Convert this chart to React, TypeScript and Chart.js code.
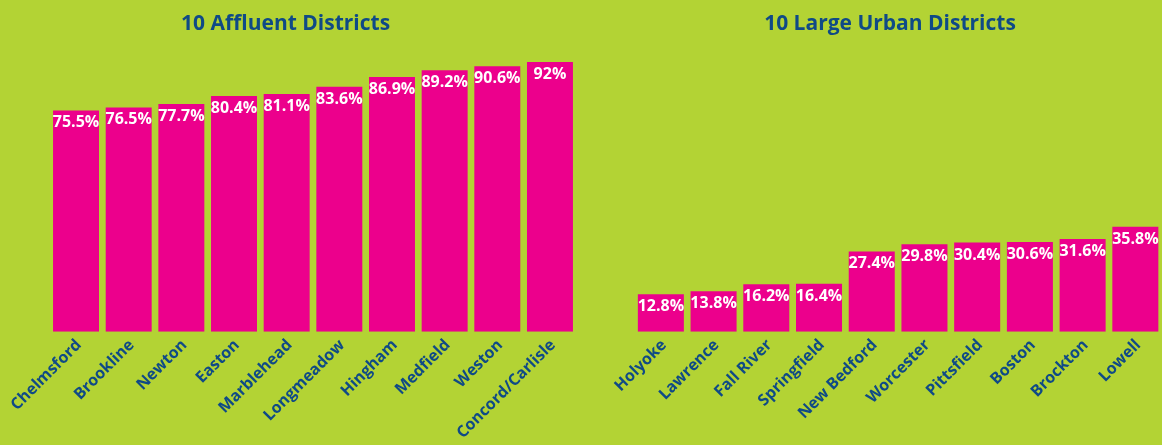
import React, { useEffect, useRef } from "react";
import { Chart, registerables } from "chart.js";

Chart.register(...registerables);

const affluentTitle = "10 Affluent Districts";
const affluentDistricts = ["Chelmsford", "Brookline", "Newton", "Easton", "Marblehead", "Longmeadow", "Hingham", "Medfield", "Weston", "Concord/Carlisle"];
const affluentValues = [75.5, 76.5, 77.7, 80.4, 81.1, 83.6, 86.9, 89.2, 90.6, 92];

const urbanTitle = "10 Large Urban Districts";
const urbanDistricts = ["Holyoke", "Lawrence", "Fall River", "Springfield", "New Bedford", "Worcester", "Pittsfield", "Boston", "Brockton", "Lowell"];
const urbanValues = [12.8, 13.8, 16.2, 16.4, 27.4, 29.8, 30.4, 30.6, 31.6, 35.8];

const BG = "#b3d334";
const BAR = "#ec008c";
const NAVY = "#0f4a86";
const FONT = "'Open Sans', 'Noto Sans', sans-serif";

function makeChart(
  canvas: HTMLCanvasElement,
  title: string,
  titleX: number,
  labels: string[],
  values: number[],
  padLeft: number,
  padRight: number
) {
  const titlePlugin = {
    id: "customTitle",
    afterDraw(chart: any) {
      const ctx = chart.ctx;
      ctx.save();
      ctx.font = `bold 21px ${FONT}`;
      ctx.fillStyle = NAVY;
      ctx.textAlign = "center";
      ctx.textBaseline = "alphabetic";
      ctx.fillText(title, titleX, 29.5);
      ctx.restore();
    },
  };
  const valueLabels = {
    id: "valueLabels",
    afterDatasetsDraw(chart: any) {
      const ctx = chart.ctx;
      const meta = chart.getDatasetMeta(0);
      ctx.save();
      ctx.font = `bold 16px ${FONT}`;
      ctx.fillStyle = "#ffffff";
      ctx.textAlign = "center";
      ctx.textBaseline = "alphabetic";
      meta.data.forEach((bar: any, i: number) => {
        ctx.fillText(`${values[i]}%`, bar.x, bar.y + 17);
      });
      ctx.restore();
    },
  };
  return new Chart(canvas, {
    type: "bar",
    data: {
      labels,
      datasets: [
        {
          data: values,
          backgroundColor: BAR,
          borderWidth: 0,
          categoryPercentage: 0.873,
          barPercentage: 1,
        },
      ],
    },
    options: {
      responsive: false,
      animation: false,
      layout: { padding: { left: padLeft, right: padRight, top: 38.6, bottom: 0 } },
      plugins: { legend: { display: false }, tooltip: { enabled: false }, title: { display: false } },
      scales: {
        y: { display: false, min: 0, max: 100 },
        x: {
          grid: { display: false, drawTicks: false },
          border: { display: false },
          ticks: {
            color: NAVY,
            font: { family: FONT, weight: "bold", size: 16 },
            maxRotation: 45,
            minRotation: 45,
            padding: 4,
            labelOffset: 3,
            autoSkip: false,
          },
          afterFit: (scale: any) => {
            scale.height = 113.3;
          },
        },
      },
    },
    plugins: [titlePlugin, valueLabels],
  } as any);
}

export default function App() {
  const leftRef = useRef<HTMLCanvasElement>(null);
  const rightRef = useRef<HTMLCanvasElement>(null);
  useEffect(() => {
    const a = makeChart(leftRef.current!, affluentTitle, 285.6, affluentDistricts, affluentValues, 49.7, 4.7);
    const b = makeChart(rightRef.current!, urbanTitle, 309, urbanDistricts, urbanValues, 53.5, 0.3);
    return () => {
      a.destroy();
      b.destroy();
    };
  }, []);
  return (
    <div style={{ position: "fixed", left: 0, top: 0, width: 1162, height: 445, background: BG, overflow: "hidden" }}>
      <canvas ref={leftRef} width={581} height={445} style={{ position: "absolute", left: 0, top: 0, display: "block" }} />
      <canvas ref={rightRef} width={581} height={445} style={{ position: "absolute", left: 581, top: 0, display: "block" }} />
    </div>
  );
}
